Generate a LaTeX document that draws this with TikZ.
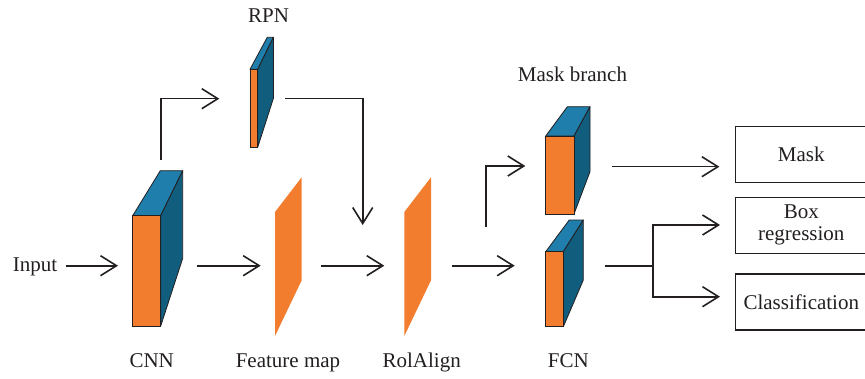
\documentclass[tikz,border=0pt]{standalone}
\usepackage{fontspec}
\setmainfont{Liberation Serif}
\usetikzlibrary{arrows.meta,positioning}

\definecolor{faceorange}{RGB}{243,125,46}
\definecolor{facetop}{RGB}{31,126,172}
\definecolor{faceside}{RGB}{17,93,126}
\definecolor{edgegray}{RGB}{35,31,32}

% cuboid: name, x, y, width, height, depth-x, top shift, bottom shift
\newcommand{\cuboid}[8]{%
    \fill[facetop, draw=edgegray, thin, line join=round]
        (#2,#3) -- (#2+#4,#3) -- (#2+#4+#6,#3+#7) -- (#2+#4+#6-0.8*#4,#3+#7) -- cycle;
    \fill[faceside, draw=edgegray, thin, line join=round]
        (#2+#4,#3) -- (#2+#4+#6,#3+#7) -- (#2+#4+#6,#3+#5+#8) -- (#2+#4,#3+#5) -- cycle;
    \fill[faceorange, draw=edgegray, thin]
        (#2,#3) rectangle (#2+#4,#3+#5);
    \coordinate (#1) at (#2+0.5*#4,#3+0.5*#5);
}
% flat sheet: name, x
\newcommand{\featsheet}[2]{%
    \fill[faceorange] (#2,212) -- (#2+26.7,177.3) -- (#2+26.7,280.3) -- (#2,336) -- cycle;
    \coordinate (#1) at (#2+13.3,256);
}

\begin{document}
\begin{tikzpicture}[
    x=0.5pt, y=-0.5pt,
    every node/.style={font=\fontsize{10.5}{11}\selectfont, text=edgegray},
    lbl/.style={anchor=base, inner sep=0pt},
    outbox/.style={rectangle, draw=edgegray, line width=0.6pt, minimum width=65.6pt,
        minimum height=28pt, inner sep=0pt, align=center},
    arr/.style={-{Straight Barb[length=8pt,width=10pt]}, line width=0.8pt, draw=edgegray},
    link/.style={line width=0.8pt, draw=edgegray}
]
    \useasboundingbox (0,0) rectangle (865,379);

    % Blocks
    \cuboid{cnn}{132.7}{215.7}{28}{110.3}{22}{-45}{-67.7}
    \cuboid{rpn}{250}{69.3}{7.7}{78}{15.7}{-32}{-49}
    \cuboid{mask}{545.7}{136}{28.3}{78}{16}{-29.3}{-42.3}
    \cuboid{fcn}{545.7}{251.7}{17.6}{75}{20}{-31.7}{-46.7}
    \featsheet{fmap}{275}
    \featsheet{roi}{404.3}

    % Outputs
    \node[outbox] (maskout) at (801.3,154.7) {Mask};
    \node[outbox] (boxreg) at (801.3,225.3) {Box\\regression};
    \node[outbox] (cls) at (801.3,302) {Classification};

    % Labels
    \node[lbl] (input) at (35,271) {Input};
    \node[lbl] (rpnlbl) at (268.5,22.7) {RPN};
    \node[lbl] (cnnlbl) at (151.7,367.7) {CNN};
    \node[lbl] (fmaplbl) at (288,367.7) {Feature map};
    \node[lbl] (roilbl) at (421.7,367.7) {RolAlign};
    \node[lbl] (fcnlbl) at (568.3,367.7) {FCN};
    \node[lbl] (masklbl) at (572.5,81.7) {Mask branch};

    % Ports
    \coordinate (cnn-in) at (118,265.7);
    \coordinate (cnn-out) at (197,265.7);
    \coordinate (cnn-up) at (160.7,160);
    \coordinate (rpn-in) at (219.3,98.7);
    \coordinate (rpn-out) at (285,98.7);
    \coordinate (roi-down) at (362.7,225);
    \coordinate (fmap-in) at (260.7,265.7);
    \coordinate (fmap-out) at (321,265.7);
    \coordinate (roi-in) at (384.3,265.7);
    \coordinate (roi-out) at (451.7,265.7);
    \coordinate (roi-up) at (485.7,226.7);
    \coordinate (mask-in) at (525.3,166);
    \coordinate (mask-out) at (612.3,166.7);
    \coordinate (fcn-in) at (514.7,265.7);
    \coordinate (fcn-out) at (605,265.7);
    \coordinate (split) at (652.7,265.7);
    \coordinate (boxreg-in) at (720,225);
    \coordinate (cls-in) at (720,296.7);

    % Edges
    \draw[arr, shorten <=4pt] (input.east |- cnn-in) -- (cnn-in);
    \draw[arr] (cnn-out) -- (fmap-in);
    \draw[arr] (cnn-up) |- (rpn-in);
    \draw[arr] (rpn-out) -| (roi-down);
    \draw[arr] (fmap-out) -- (roi-in);
    \draw[arr] (roi-out) -- (fcn-in);
    \draw[arr] (roi-up) |- (mask-in);
    \draw[arr, shorten >=7.85pt] (mask-out) -- (maskout.west |- mask-out);
    \draw[link] (fcn-out) -- (split);
    \draw[arr] (split) |- (boxreg-in);
    \draw[arr] (split) |- (cls-in);
\end{tikzpicture}
\end{document}
